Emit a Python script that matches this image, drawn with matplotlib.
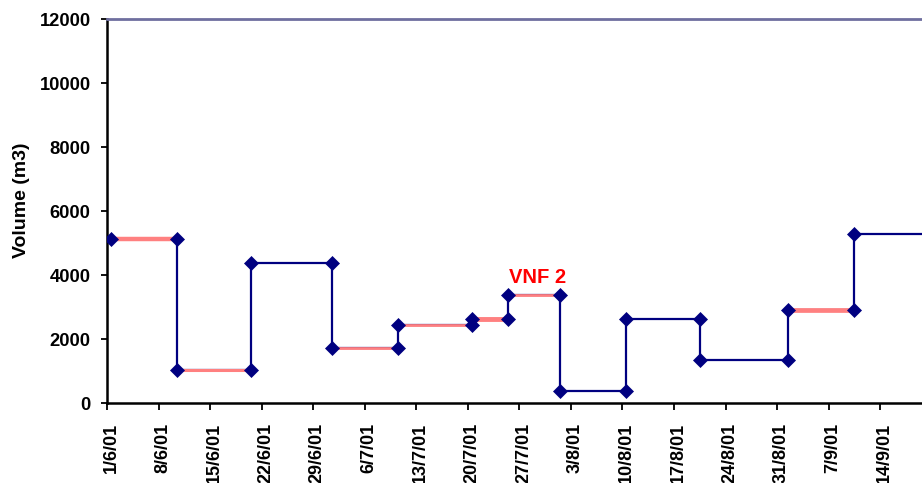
import matplotlib
matplotlib.use("Agg")
import matplotlib.pyplot as plt
import matplotlib.dates as mdates
import matplotlib.transforms as mtransforms
import numpy as np
import datetime as dt

# ---- data ----
change_dates = ['2001-06-01', '2001-06-10', '2001-06-20', '2001-07-01', '2001-07-10',
                '2001-07-20', '2001-07-25', '2001-08-01', '2001-08-10', '2001-08-20',
                '2001-09-01', '2001-09-10']
volumes = [5110, 1045, 4375, 1730, 2430, 2615, 3365, 365, 2610, 1355, 2920, 5295]
line_end = '2001-09-30'
# interval index -> highlighted (pink) width in points (0 = none)
pink_widths = [3.2, 2.2, 0, 2.0, 2.0, 3.5, 2.0, 0, 0, 0, 3.4, 0]
tick_dates = ['2001-06-01', '2001-06-08', '2001-06-15', '2001-06-22', '2001-06-29',
              '2001-07-06', '2001-07-13', '2001-07-20', '2001-07-27', '2001-08-03',
              '2001-08-10', '2001-08-17', '2001-08-24', '2001-08-31', '2001-09-07',
              '2001-09-14']
tick_labels = ['1/6/01', '8/6/01', '15/6/01', '22/6/01', '29/6/01', '6/7/01', '13/7/01',
               '20/7/01', '27/7/01', '3/8/01', '10/8/01', '17/8/01', '24/8/01', '31/8/01',
               '7/9/01', '14/9/01']
y_ticks = [0, 2000, 4000, 6000, 8000, 10000, 12000]
annotation_text = 'VNF 2'
annotation_date = '2001-07-29'
annotation_value = 3930

plt.rcParams['font.family'] = ['Liberation Sans', 'DejaVu Sans']
plt.rcParams['font.weight'] = 'bold'

def dn(s):
    return mdates.date2num(dt.datetime.strptime(s, '%Y-%m-%d'))

half = 0.5  # points sit in the middle of the day cell
xs = np.array([dn(d) for d in change_dates]) + half
x_end = dn(line_end)

fig = plt.figure(figsize=(9.22, 4.83), dpi=100)
ax = fig.add_axes([107.3 / 922, 80 / 483, 1 - 107.3 / 922, (403 - 19) / 483])

NAVY = '#000080'
PINK = '#FF8080'

# blue step line
sx = list(xs) + [x_end]
sy = list(volumes) + [volumes[-1]]
ax.plot(sx, sy, drawstyle='steps-post', color=NAVY, lw=1.6, zorder=2, solid_joinstyle='miter')

# pink highlighted intervals
for i, w in enumerate(pink_widths):
    if w > 0 and i + 1 < len(xs):
        ax.plot([xs[i], xs[i + 1]], [volumes[i], volumes[i]], color=PINK, lw=w,
                solid_capstyle='butt', zorder=3)

# markers: before and after each change
mx, my = [xs[0]], [volumes[0]]
for i in range(1, len(xs)):
    mx += [xs[i], xs[i]]
    my += [volumes[i - 1], volumes[i]]
ax.plot(mx, my, linestyle='none', marker='D', markersize=7.6, color=NAVY,
        markeredgecolor=NAVY, markeredgewidth=0.5, zorder=4)

ax.text(dn(annotation_date) + half, annotation_value, annotation_text, color='#FF0000',
        fontsize=14.5, fontweight='bold', ha='center', va='center', zorder=5)

ax.set_xlim(dn(tick_dates[0]), dn(tick_dates[0]) + 110.7)
ax.set_ylim(0, 12000)
ax.set_yticks(y_ticks)
ax.set_yticklabels([str(v) for v in y_ticks])
ax.set_xticks([dn(d) for d in tick_dates])
ax.set_xticklabels(tick_labels, rotation=90, va='top', ha='center')

ax.tick_params(axis='y', direction='out', length=4, width=1.3, pad=8, labelsize=13.2,
               colors='black')
ax.tick_params(axis='x', direction='out', length=5, width=1.3, pad=9, labelsize=13)
off = mtransforms.ScaledTranslation(4 / 100, 0, fig.dpi_scale_trans)
for lbl in ax.get_xticklabels():
    lbl.set_transform(lbl.get_transform() + off)

for s in ['left', 'bottom']:
    ax.spines[s].set_color('black')
    ax.spines[s].set_linewidth(1.8)
ax.spines['top'].set_color('#6F6F9F')
ax.spines['top'].set_linewidth(2)
ax.spines['right'].set_visible(False)

fig.text(21 / 922, 1 - 200 / 483, 'Volume (m3)', rotation=90, ha='center', va='center',
         fontsize=14, fontweight='bold')

fig.savefig('out.png', dpi=100)
